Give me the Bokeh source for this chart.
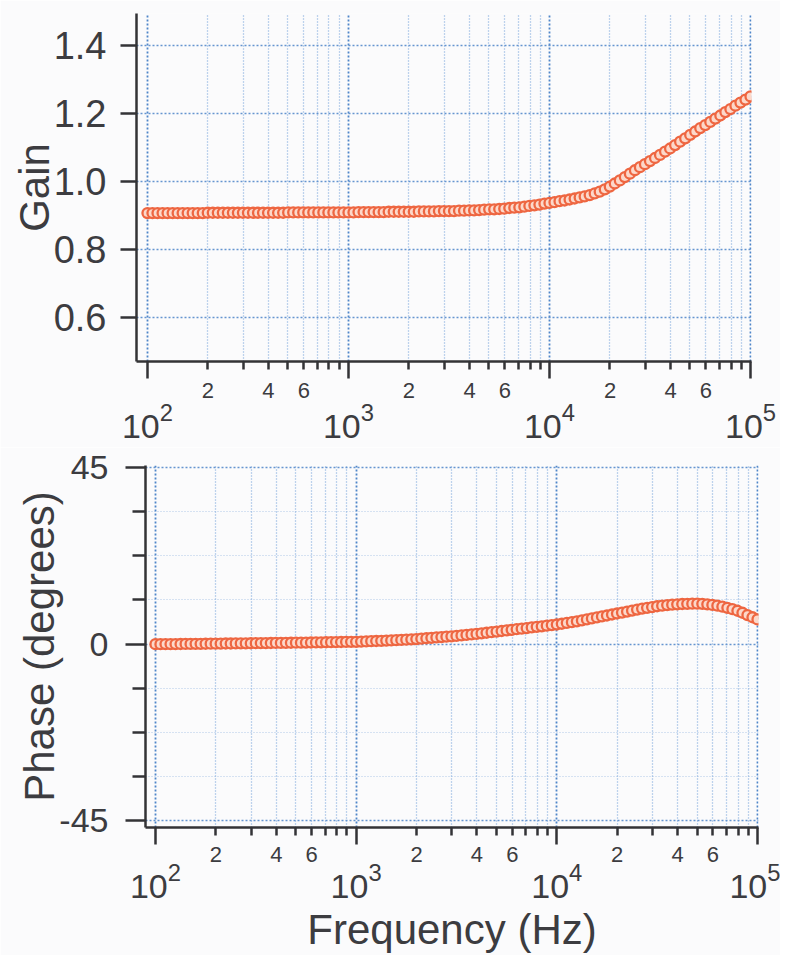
from bokeh.plotting import figure
from bokeh.layouts import column, row
from bokeh.models import LogAxis, FixedTicker, LogTickFormatter, Range1d, CustomJSTickFormatter
from bokeh.embed import file_html
from bokeh.resources import INLINE

# ---------------- data ----------------
freq_hz = [
    100, 105.9, 112.2, 118.9, 125.9, 133.4, 141.3, 149.6, 158.5, 167.9,
    177.8, 188.4, 199.5, 211.3, 223.9, 237.1, 251.2, 266.1, 281.8, 298.5,
    316.2, 335.0, 354.8, 375.8, 398.1, 421.7, 446.7, 473.2, 501.2, 530.9,
    562.3, 595.7, 631.0, 668.3, 707.9, 749.9, 794.3, 841.4, 891.3, 944.1,
    1000, 1059, 1122, 1189, 1259, 1334, 1413, 1496, 1585, 1679,
    1778, 1884, 1995, 2113, 2239, 2371, 2512, 2661, 2818, 2985,
    3162, 3350, 3548, 3758, 3981, 4217, 4467, 4732, 5012, 5309,
    5623, 5957, 6310, 6683, 7079, 7499, 7943, 8414, 8913, 9441,
    10000, 10590, 11220, 11890, 12590, 13340, 14130, 14960, 15850, 16790,
    17780, 18840, 19950, 21130, 22390, 23710, 25120, 26610, 28180, 29850,
    31620, 33500, 35480, 37580, 39810, 42170, 44670, 47320, 50120, 53090,
    56230, 59570, 63100, 66830, 70790, 74990, 79430, 84140, 89130, 94410,
    100000,
]

gain = [
    0.907, 0.907, 0.907, 0.907, 0.907, 0.907, 0.907, 0.907, 0.907, 0.907,
    0.907, 0.907, 0.908, 0.908, 0.908, 0.908, 0.908, 0.908, 0.908, 0.908,
    0.908, 0.908, 0.908, 0.908, 0.908, 0.908, 0.908, 0.908, 0.909, 0.909,
    0.909, 0.909, 0.909, 0.909, 0.909, 0.909, 0.909, 0.909, 0.909, 0.909,
    0.909, 0.909, 0.910, 0.910, 0.910, 0.910, 0.910, 0.910, 0.911, 0.911,
    0.911, 0.911, 0.911, 0.911, 0.912, 0.912, 0.912, 0.912, 0.913, 0.913,
    0.913, 0.913, 0.914, 0.914, 0.915, 0.915, 0.916, 0.917, 0.918, 0.918,
    0.919, 0.920, 0.922, 0.923, 0.924, 0.926, 0.928, 0.930, 0.932, 0.935,
    0.937, 0.939, 0.942, 0.944, 0.947, 0.950, 0.953, 0.956, 0.960, 0.965,
    0.970, 0.977, 0.985, 0.994, 1.003, 1.013, 1.023, 1.033, 1.042, 1.051,
    1.060, 1.069, 1.078, 1.088, 1.097, 1.107, 1.117, 1.127, 1.137, 1.147,
    1.157, 1.166, 1.175, 1.185, 1.194, 1.204, 1.213, 1.223, 1.232, 1.241,
    1.250,
]

phase_deg = [
    0.00, 0.00, 0.01, 0.02, 0.03, 0.04, 0.05, 0.06, 0.07, 0.08,
    0.10, 0.11, 0.13, 0.14, 0.16, 0.17, 0.19, 0.20, 0.22, 0.23,
    0.25, 0.26, 0.28, 0.29, 0.31, 0.32, 0.34, 0.35, 0.37, 0.38,
    0.40, 0.42, 0.44, 0.46, 0.48, 0.50, 0.52, 0.54, 0.56, 0.58,
    0.60, 0.65, 0.70, 0.75, 0.80, 0.85, 0.90, 0.95, 1.00, 1.07,
    1.15, 1.22, 1.30, 1.40, 1.50, 1.60, 1.70, 1.80, 1.90, 2.00,
    2.10, 2.22, 2.35, 2.47, 2.60, 2.75, 2.90, 3.05, 3.20, 3.35,
    3.50, 3.65, 3.80, 3.95, 4.10, 4.25, 4.40, 4.55, 4.70, 4.85,
    5.00, 5.20, 5.40, 5.60, 5.80, 6.05, 6.30, 6.55, 6.80, 7.05,
    7.30, 7.55, 7.80, 8.05, 8.30, 8.55, 8.80, 9.05, 9.25, 9.45,
    9.65, 9.80, 9.95, 10.05, 10.15, 10.22, 10.28, 10.30, 10.30, 10.28,
    10.15, 10.00, 9.80, 9.55, 9.25, 8.90, 8.50, 8.00, 7.40, 6.85,
    6.30,
]

decade_ticks = [100, 1000, 10000, 100000]
minor_ticks = [200, 300, 400, 500, 600, 700, 800, 900,
               2000, 3000, 4000, 5000, 6000, 7000, 8000, 9000,
               20000, 30000, 40000, 50000, 60000, 70000, 80000, 90000]
minor_label_ticks = [200, 400, 600, 2000, 4000, 6000, 20000, 40000, 60000]
minor_label_text = ["2", "4", "6", "2", "4", "6", "2", "4", "6"]

gain_ticks = [0.6, 0.8, 1.0, 1.2, 1.4]
gain_tick_text = ["0.6", "0.8", "1.0", "1.2", "1.4"]

phase_ticks = [-45, 0, 45]
phase_tick_text = ["-45", "0", "45"]
phase_minor_ticks = [-33.75, -22.5, -11.25, 11.25, 22.5, 33.75]

# ---------------- style ----------------
FONT = "Liberation Sans"
TXT = "#3c3c40"
AX = "#333336"
GRID = "#4f86c9"
GRID_H = "#6595d0"
GRID_MINOR = "#80a9db"
BG = "#fbfbfc"
MARK = "#ee6641"
MARK_FILL = "#fcd8ca"


def label_formatter(tvals, tlabels):
    return CustomJSTickFormatter(args=dict(tvals=tvals, tlabels=tlabels), code="""
        for (let i = 0; i < tvals.length; i++) {
            if (Math.abs(tvals[i] - tick) <= 1e-6 * Math.max(1, Math.abs(tvals[i]))) return tlabels[i];
        }
        return '';
    """)


def blank_formatter():
    return CustomJSTickFormatter(code="return '';")


def style_x_axes(p, sb, sc, xlabel=None, sl=0):
    # axis A: line + ticks, no labels
    ax = p.xaxis[0]
    ax.ticker = FixedTicker(ticks=decade_ticks, minor_ticks=minor_ticks)
    ax.formatter = blank_formatter()
    ax.major_label_text_font_size = "1px"
    ax.major_label_standoff = 0
    ax.axis_line_color = AX
    ax.axis_line_width = 2.5
    ax.major_tick_line_color = AX
    ax.major_tick_line_width = 2.5
    ax.major_tick_in = 0
    ax.major_tick_out = 17
    ax.minor_tick_line_color = AX
    ax.minor_tick_line_width = 2.5
    ax.minor_tick_in = 0
    ax.minor_tick_out = 8

    p.xgrid.ticker = ax.ticker
    p.xgrid.grid_line_color = GRID
    p.xgrid.grid_line_dash = "2 2"
    p.xgrid.grid_line_width = 1.8
    p.xgrid.minor_grid_line_color = GRID_MINOR
    p.xgrid.minor_grid_line_dash = "1 2"
    p.xgrid.minor_grid_line_width = 1.3

    # axis B: minor labels 2, 4, 6
    bx = LogAxis(ticker=FixedTicker(ticks=minor_label_ticks, minor_ticks=[]),
                 formatter=label_formatter(minor_label_ticks, minor_label_text))
    bx.axis_line_color = None
    bx.major_tick_line_color = None
    bx.minor_tick_line_color = None
    bx.major_label_text_font = FONT
    bx.major_label_text_font_size = "22px"
    bx.major_label_text_color = TXT
    bx.major_label_standoff = sb
    p.add_layout(bx, "below")

    # axis C: decade labels 10^n
    cx = LogAxis(ticker=FixedTicker(ticks=decade_ticks, minor_ticks=[]),
                 formatter=LogTickFormatter())
    cx.axis_line_color = None
    cx.major_tick_line_color = None
    cx.minor_tick_line_color = None
    cx.major_label_text_font = FONT
    cx.major_label_text_font_size = "34px"
    cx.major_label_text_color = TXT
    cx.major_label_standoff = sc
    if xlabel:
        cx.axis_label = xlabel
        cx.axis_label_text_font = FONT
        cx.axis_label_text_font_size = "42px"
        cx.axis_label_text_font_style = "normal"
        cx.axis_label_text_color = TXT
        cx.axis_label_standoff = sl
    p.add_layout(cx, "below")


def style_y_axis(p, ylabel, tick_out, minor_out, standoff, font_size, label_standoff):
    ay = p.yaxis[0]
    ay.axis_line_color = AX
    ay.axis_line_width = 2.5
    ay.major_tick_line_color = AX
    ay.major_tick_line_width = 2.5
    ay.major_tick_in = 0
    ay.major_tick_out = tick_out
    ay.minor_tick_line_color = AX
    ay.minor_tick_line_width = 2.5
    ay.minor_tick_in = 0
    ay.minor_tick_out = minor_out
    ay.major_label_text_font = FONT
    ay.major_label_text_font_size = font_size
    ay.major_label_text_color = TXT
    ay.major_label_standoff = standoff
    ay.axis_label = ylabel
    ay.axis_label_text_font = FONT
    ay.axis_label_text_font_size = "42px"
    ay.axis_label_text_font_style = "normal"
    ay.axis_label_text_color = TXT
    ay.axis_label_standoff = label_standoff


# ---------------- gain panel ----------------
p1 = figure(x_axis_type="log", x_range=Range1d(88.2, 101150), y_range=Range1d(0.4706, 1.494),
            frame_width=615, frame_height=348,
            min_border_left=136, min_border_right=29, min_border_top=13, min_border_bottom=86,
            output_backend="svg", toolbar_location=None,
            background_fill_color=BG, border_fill_color=BG)
p1.outline_line_color = None
style_x_axes(p1, sb=-2, sc=-4)
p1.yaxis[0].ticker = FixedTicker(ticks=gain_ticks, minor_ticks=[])
p1.yaxis[0].formatter = label_formatter(gain_ticks, gain_tick_text)
style_y_axis(p1, "Gain", 16, 0, 14, "38px", -7)
p1.ygrid.ticker = p1.yaxis[0].ticker
p1.ygrid.grid_line_color = GRID_H
p1.ygrid.grid_line_dash = "2 2"
p1.ygrid.grid_line_width = 1.5
p1.scatter(freq_hz, gain, marker="circle", size=10, line_color=MARK, line_width=2.3,
           fill_color=MARK_FILL)

# ---------------- phase panel ----------------
p2 = figure(x_axis_type="log", x_range=Range1d(89.2, 101150), y_range=Range1d(-46.7, 45.5),
            frame_width=613, frame_height=362,
            min_border_left=145, min_border_right=22, min_border_top=18, min_border_bottom=123,
            output_backend="svg", toolbar_location=None,
            background_fill_color=BG, border_fill_color=BG)
p2.outline_line_color = None
style_x_axes(p2, sb=-4, sc=-8, xlabel="Frequency (Hz)", sl=5)
p2.yaxis[0].ticker = FixedTicker(ticks=phase_ticks, minor_ticks=phase_minor_ticks)
p2.yaxis[0].formatter = label_formatter(phase_ticks, phase_tick_text)
style_y_axis(p2, "Phase (degrees)", 20, 13, 17, "34px", -7)
p2.ygrid.ticker = p2.yaxis[0].ticker
p2.ygrid.grid_line_color = GRID_H
p2.ygrid.grid_line_dash = "2 2"
p2.ygrid.grid_line_width = 1.5
p2.ygrid.minor_grid_line_color = GRID_MINOR
p2.ygrid.minor_grid_line_dash = "1 2"
p2.ygrid.minor_grid_line_width = 1
p2.ygrid.minor_grid_line_alpha = 0.6
p2.scatter(freq_hz, phase_deg, marker="circle", size=10, line_color=MARK, line_width=2.3,
           fill_color=MARK_FILL)

# wrap each figure on its own row so that their frames are not forced into line
layout = column(row(p1), row(p2), spacing=0)
open("out.html", "w").write(file_html(layout, INLINE))
